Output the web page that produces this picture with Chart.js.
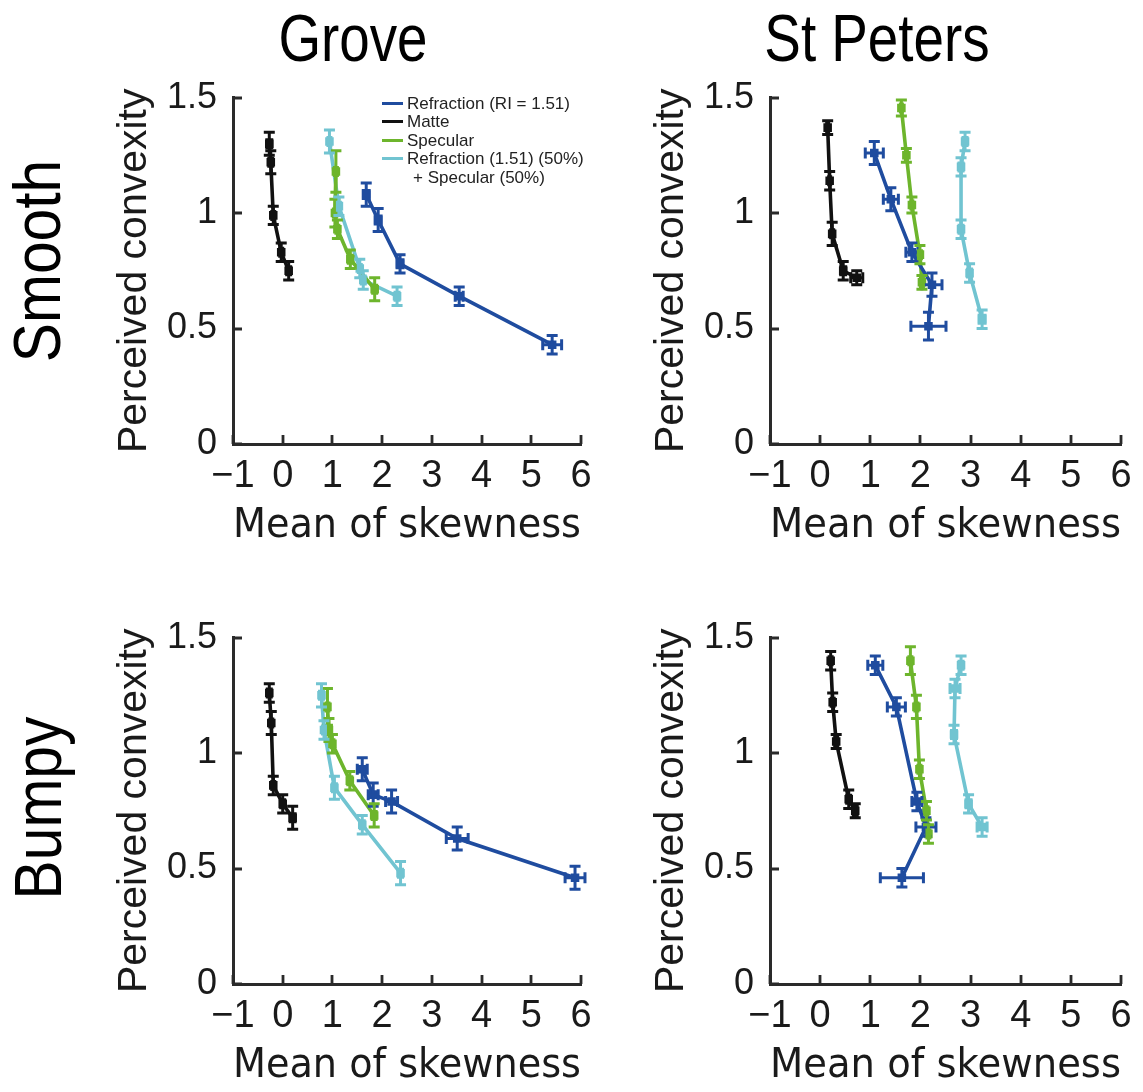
<!DOCTYPE html>
<html>
<head>
<meta charset="utf-8">
<script src="https://cdn.jsdelivr.net/npm/chart.js@4.4.1/dist/chart.umd.min.js"></script>
<style>
  html, body { margin:0; padding:0; background:#ffffff; }
  body { width:1143px; height:1092px; position:relative; overflow:hidden; }
  .panel { position:absolute; }
  .big { position:absolute; font-family:'Liberation Sans', Arial, sans-serif; font-size:66px; line-height:1; white-space:nowrap; color:#000; }
  .colTitle { transform: translate(-50%,-50%) scaleX(0.83); }
  .rowTitle { transform: translate(-50%,-50%) rotate(-90deg) scaleX(0.89); }
  #legend { position:absolute; left:382px; top:95px; font-family:'Liberation Sans', Arial, sans-serif; font-size:17px; color:#222; }
  .lrow { position:relative; height:18.4px; line-height:18.4px; white-space:nowrap; }
  .lsw { display:inline-block; width:21px; height:3px; vertical-align:middle; margin-right:4px; position:relative; top:-1px; }
  .lcont { padding-left:31px; }
</style>
</head>
<body>
<div class="big colTitle" style="left:353px; top:38px;">Grove</div>
<div class="big colTitle" style="left:877px; top:38px;">St Peters</div>
<div class="big rowTitle" style="left:37px; top:261px;">Smooth</div>
<div class="big rowTitle" style="left:38px; top:808px;">Bumpy</div>

<div class="panel" style="left:100px; top:60px; width:520px; height:487px;"><canvas id="gs" width="520" height="487"></canvas></div>
<div class="panel" style="left:637px; top:60px; width:506px; height:487px;"><canvas id="ss" width="506" height="487"></canvas></div>
<div class="panel" style="left:100px; top:600px; width:520px; height:487px;"><canvas id="gb" width="520" height="487"></canvas></div>
<div class="panel" style="left:637px; top:600px; width:506px; height:487px;"><canvas id="sb" width="506" height="487"></canvas></div>
<div id="legend"></div>

<script>
// ---------- labels / ticks ----------
const columnTitles = ['Grove', 'St Peters'];
const rowTitles = ['Smooth', 'Bumpy'];
const xAxisTitle = 'Mean of skewness';
const yAxisTitle = 'Perceived convexity';
const xTickValues = [-1, 0, 1, 2, 3, 4, 5, 6];
const xTickLabels = ['\u22121', '0', '1', '2', '3', '4', '5', '6'];
const yTickValues = [0, 0.5, 1, 1.5];
const yTickLabels = ['0', '0.5', '1', '1.5'];

// ---------- series ----------
const seriesNames = ['Refraction (RI = 1.51)', 'Matte', 'Specular', 'Refraction (1.51) (50%) + Specular (50%)'];
const seriesLegendLines = [['Refraction (RI = 1.51)'], ['Matte'], ['Specular'], ['Refraction (1.51) (50%)', '+ Specular (50%)']];
const seriesColors = ['#1f4c9f', '#111111', '#6db52c', '#71c4d1'];

// Grove – Smooth
const gsRefrX = [1.68, 1.92, 2.36, 3.55, 5.42];
const gsRefrY = [1.08, 0.97, 0.78, 0.64, 0.43];
const gsRefrXErr = [0.06, 0.06, 0.06, 0.08, 0.19];
const gsRefrYErr = [0.05, 0.05, 0.04, 0.04, 0.04];
const gsMatteX = [-0.27, -0.24, -0.19, -0.03, 0.12];
const gsMatteY = [1.30, 1.22, 0.99, 0.83, 0.75];
const gsMatteXErr = [0.05, 0.04, 0.03, 0.03, 0.04];
const gsMatteYErr = [0.05, 0.05, 0.04, 0.04, 0.04];
const gsSpecX = [1.07, 1.05, 1.10, 1.36, 1.85];
const gsSpecY = [1.18, 1.00, 0.93, 0.80, 0.67];
const gsSpecXErr = [0.03, 0.03, 0.03, 0.04, 0.04];
const gsSpecYErr = [0.09, 0.06, 0.04, 0.04, 0.05];
const gsMixX = [0.94, 1.13, 1.55, 1.62, 2.30];
const gsMixY = [1.31, 1.03, 0.76, 0.71, 0.64];
const gsMixXErr = [0.03, 0.03, 0.03, 0.04, 0.04];
const gsMixYErr = [0.05, 0.04, 0.04, 0.04, 0.04];

// St Peters – Smooth
const ssRefrX = [1.08, 1.41, 1.83, 2.23, 2.16];
const ssRefrY = [1.26, 1.06, 0.83, 0.69, 0.51];
const ssRefrXErr = [0.18, 0.15, 0.12, 0.20, 0.35];
const ssRefrYErr = [0.05, 0.05, 0.04, 0.05, 0.06];
const ssMatteX = [0.15, 0.19, 0.24, 0.46, 0.73];
const ssMatteY = [1.37, 1.14, 0.91, 0.75, 0.72];
const ssMatteXErr = [0.02, 0.02, 0.03, 0.05, 0.12];
const ssMatteYErr = [0.03, 0.04, 0.05, 0.04, 0.03];
const ssSpecX = [1.62, 1.72, 1.83, 1.99, 2.03];
const ssSpecY = [1.455, 1.25, 1.035, 0.82, 0.70];
const ssSpecXErr = [0.02, 0.02, 0.02, 0.03, 0.03];
const ssSpecYErr = [0.035, 0.03, 0.035, 0.04, 0.03];
const ssMixX = [2.89, 2.81, 2.81, 2.98, 3.23];
const ssMixY = [1.31, 1.20, 0.93, 0.74, 0.54];
const ssMixXErr = [0.04, 0.04, 0.04, 0.04, 0.06];
const ssMixYErr = [0.04, 0.04, 0.04, 0.04, 0.04];

// Grove – Bumpy
const gbRefrX = [1.60, 1.82, 2.19, 3.51, 5.88];
const gbRefrY = [0.93, 0.82, 0.79, 0.63, 0.46];
const gbRefrXErr = [0.10, 0.10, 0.12, 0.22, 0.20];
const gbRefrYErr = [0.05, 0.05, 0.05, 0.05, 0.05];
const gbMatteX = [-0.27, -0.23, -0.19, 0.00, 0.20];
const gbMatteY = [1.26, 1.13, 0.86, 0.78, 0.72];
const gbMatteXErr = [0.04, 0.03, 0.03, 0.04, 0.05];
const gbMatteYErr = [0.04, 0.05, 0.04, 0.04, 0.05];
const gbSpecX = [0.90, 0.93, 1.00, 1.35, 1.84];
const gbSpecY = [1.20, 1.10, 1.04, 0.88, 0.73];
const gbSpecXErr = [0.03, 0.03, 0.03, 0.04, 0.04];
const gbSpecYErr = [0.08, 0.05, 0.04, 0.04, 0.05];
const gbMixX = [0.78, 0.83, 1.04, 1.60, 2.37];
const gbMixY = [1.25, 1.10, 0.85, 0.69, 0.48];
const gbMixXErr = [0.04, 0.03, 0.04, 0.04, 0.04];
const gbMixYErr = [0.05, 0.04, 0.05, 0.04, 0.05];

// St Peters – Bumpy
const sbRefrX = [1.10, 1.52, 1.93, 2.11, 1.63];
const sbRefrY = [1.38, 1.20, 0.79, 0.68, 0.46];
const sbRefrXErr = [0.15, 0.18, 0.10, 0.20, 0.43];
const sbRefrYErr = [0.04, 0.04, 0.04, 0.04, 0.04];
const sbMatteX = [0.21, 0.25, 0.32, 0.57, 0.70];
const sbMatteY = [1.40, 1.22, 1.05, 0.80, 0.75];
const sbMatteXErr = [0.03, 0.03, 0.03, 0.04, 0.04];
const sbMatteYErr = [0.04, 0.04, 0.03, 0.04, 0.03];
const sbSpecX = [1.80, 1.92, 1.98, 2.12, 2.16];
const sbSpecY = [1.40, 1.20, 0.93, 0.75, 0.65];
const sbSpecXErr = [0.03, 0.03, 0.03, 0.03, 0.03];
const sbSpecYErr = [0.06, 0.05, 0.04, 0.04, 0.04];
const sbMixX = [2.81, 2.69, 2.67, 2.96, 3.23];
const sbMixY = [1.38, 1.28, 1.08, 0.78, 0.68];
const sbMixXErr = [0.04, 0.10, 0.05, 0.05, 0.10];
const sbMixYErr = [0.04, 0.04, 0.04, 0.04, 0.04];

// ---------- build ----------
const AXIS_COLOR = '#2a2a2a';

function points(x, y, ex, ey) {
  return x.map((v, i) => ({ x: v, y: y[i], ex: ex[i], ey: ey[i] }));
}
function dataset(idx, x, y, ex, ey) {
  return {
    label: seriesNames[idx],
    data: points(x, y, ex, ey),
    showLine: true,
    borderColor: seriesColors[idx],
    backgroundColor: seriesColors[idx],
    borderWidth: 3.6,
    pointStyle: 'rect',
    pointRadius: 3.5,
    pointHoverRadius: 3.5,
    clip: false,
    tension: 0
  };
}

const errorBars = {
  id: 'errorBars',
  afterDatasetsDraw(chart) {
    const ctx = chart.ctx, xs = chart.scales.x, ys = chart.scales.y;
    const cap = 5.5;
    chart.data.datasets.forEach((ds) => {
      ctx.save();
      ctx.strokeStyle = ds.borderColor;
      ctx.lineWidth = 3;
      ctx.lineCap = 'butt';
      ds.data.forEach((p) => {
        const px = xs.getPixelForValue(p.x), py = ys.getPixelForValue(p.y);
        ctx.beginPath();
        if (p.ey) {
          const y1 = ys.getPixelForValue(p.y - p.ey), y2 = ys.getPixelForValue(p.y + p.ey);
          ctx.moveTo(px, y1); ctx.lineTo(px, y2);
          ctx.moveTo(px - cap, y1); ctx.lineTo(px + cap, y1);
          ctx.moveTo(px - cap, y2); ctx.lineTo(px + cap, y2);
        }
        if (p.ex) {
          const x1 = xs.getPixelForValue(p.x - p.ex), x2 = xs.getPixelForValue(p.x + p.ex);
          ctx.moveTo(x1, py); ctx.lineTo(x2, py);
          ctx.moveTo(x1, py - cap); ctx.lineTo(x1, py + cap);
          ctx.moveTo(x2, py - cap); ctx.lineTo(x2, py + cap);
        }
        ctx.stroke();
      });
      ctx.restore();
    });
  }
};

const inwardTicks = {
  id: 'inwardTicks',
  afterDraw(chart) {
    const { ctx, chartArea: a, scales: { x, y } } = chart;
    const len = 9;
    ctx.save();
    ctx.strokeStyle = AXIS_COLOR;
    ctx.lineWidth = 2.8;
    ctx.beginPath();
    xTickValues.forEach(v => {
      const px = Math.round(x.getPixelForValue(v));
      ctx.moveTo(px, a.bottom); ctx.lineTo(px, a.bottom - len);
    });
    yTickValues.forEach(v => {
      const py = Math.round(y.getPixelForValue(v));
      ctx.moveTo(a.left, py); ctx.lineTo(a.left + len, py);
    });
    ctx.stroke();
    ctx.restore();
  }
};

function makeChart(id, padRight, sets) {
  const ctx = document.getElementById(id);
  return new Chart(ctx, {
    type: 'scatter',
    data: { datasets: sets },
    plugins: [errorBars, inwardTicks],
    options: {
      responsive: false,
      animation: false,
      events: [],
      layout: { padding: { top: 34, right: padRight, left: 0, bottom: 0 } },
      plugins: { legend: { display: false }, tooltip: { enabled: false } },
      scales: {
        x: {
          type: 'linear', min: -1, max: 6,
          afterBuildTicks: (s) => { s.ticks = xTickValues.map(v => ({ value: v })); },
          afterFit: (s) => { s.height = 103; },
          grid: { display: false, drawTicks: false },
          border: { display: true, color: AXIS_COLOR, width: 3 },
          ticks: {
            padding: 10, maxRotation: 0, autoSkip: false, color: '#1a1a1a',
            font: { family: "'Liberation Sans', Arial, sans-serif", size: 38, lineHeight: 1.2 },
            callback: (v) => { const i = xTickValues.indexOf(v); return i >= 0 ? xTickLabels[i] : ''; }
          },
          title: {
            display: true, text: xAxisTitle, color: '#1a1a1a',
            font: { family: "'DejaVu Sans', sans-serif", size: 41, lineHeight: 1 },
            padding: { top: 0, bottom: 0 }
          }
        },
        y: {
          type: 'linear', min: 0, max: 1.5,
          afterBuildTicks: (s) => { s.ticks = yTickValues.map(v => ({ value: v })); },
          afterFit: (s) => { s.width = 133; },
          grid: { display: false, drawTicks: false },
          border: { display: true, color: AXIS_COLOR, width: 3 },
          ticks: {
            padding: 16, autoSkip: false, color: '#1a1a1a',
            font: { family: "'Liberation Sans', Arial, sans-serif", size: 36, lineHeight: 1.2 },
            callback: (v) => { const i = yTickValues.indexOf(v); return i >= 0 ? yTickLabels[i] : ''; }
          },
          title: {
            display: true, text: yAxisTitle, color: '#1a1a1a',
            font: { family: "'Liberation Sans', Arial, sans-serif", size: 41, lineHeight: 1 },
            padding: { top: 14, bottom: 0 }
          }
        }
      }
    }
  });
}

makeChart('gs', 39, [
  dataset(0, gsRefrX, gsRefrY, gsRefrXErr, gsRefrYErr),
  dataset(1, gsMatteX, gsMatteY, gsMatteXErr, gsMatteYErr),
  dataset(2, gsSpecX, gsSpecY, gsSpecXErr, gsSpecYErr),
  dataset(3, gsMixX, gsMixY, gsMixXErr, gsMixYErr)
]);
makeChart('ss', 22, [
  dataset(0, ssRefrX, ssRefrY, ssRefrXErr, ssRefrYErr),
  dataset(1, ssMatteX, ssMatteY, ssMatteXErr, ssMatteYErr),
  dataset(2, ssSpecX, ssSpecY, ssSpecXErr, ssSpecYErr),
  dataset(3, ssMixX, ssMixY, ssMixXErr, ssMixYErr)
]);
makeChart('gb', 39, [
  dataset(0, gbRefrX, gbRefrY, gbRefrXErr, gbRefrYErr),
  dataset(1, gbMatteX, gbMatteY, gbMatteXErr, gbMatteYErr),
  dataset(2, gbSpecX, gbSpecY, gbSpecXErr, gbSpecYErr),
  dataset(3, gbMixX, gbMixY, gbMixXErr, gbMixYErr)
]);
makeChart('sb', 22, [
  dataset(0, sbRefrX, sbRefrY, sbRefrXErr, sbRefrYErr),
  dataset(1, sbMatteX, sbMatteY, sbMatteXErr, sbMatteYErr),
  dataset(2, sbSpecX, sbSpecY, sbSpecXErr, sbSpecYErr),
  dataset(3, sbMixX, sbMixY, sbMixXErr, sbMixYErr)
]);

// legend (Grove – Smooth panel)
const legendEl = document.getElementById('legend');
seriesLegendLines.forEach((lines, i) => {
  lines.forEach((txt, j) => {
    const row = document.createElement('div');
    row.className = 'lrow';
    if (j === 0) {
      const sw = document.createElement('span');
      sw.className = 'lsw';
      sw.style.background = seriesColors[i];
      row.appendChild(sw);
      row.appendChild(document.createTextNode(txt));
    } else {
      row.classList.add('lcont');
      row.textContent = txt;
    }
    legendEl.appendChild(row);
  });
});
</script>
</body>
</html>
